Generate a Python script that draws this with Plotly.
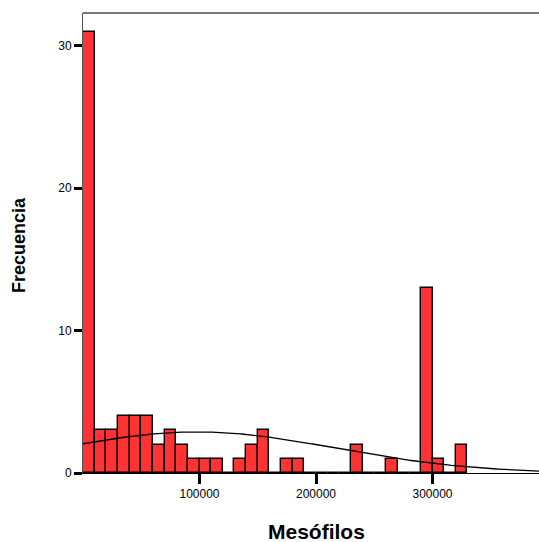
import numpy as np
import plotly.graph_objects as go

# Histogram bins (lower edge of each 10000-wide bin) and frequencies
bin_edges = [0, 10000, 20000, 30000, 40000, 50000, 60000, 70000, 80000, 90000,
             100000, 110000, 120000, 130000, 140000, 150000, 160000, 170000, 180000, 190000,
             200000, 210000, 220000, 230000, 240000, 250000, 260000, 270000, 280000, 290000,
             300000, 310000, 320000]
counts = [31, 3, 3, 4, 4, 4, 2, 3, 2, 1,
          1, 1, 0, 1, 2, 3, 0, 1, 1, 0,
          0, 0, 0, 2, 0, 0, 1, 0, 0, 13,
          1, 0, 2]
bin_width = 10000

# Normal curve parameters (as read from the overlay)
curve_mean = 98000
curve_sd = 119000

x_ticks = [100000, 200000, 300000]
x_tick_labels = ["100000", "200000", "300000"]
y_ticks = [0, 10, 20, 30]
y_tick_labels = ["0", "10", "20", "30"]

x_max = 391400
y_max = 32.3

centers = [e + bin_width / 2 for e in bin_edges]
n_total = sum(counts)
cx = np.linspace(0, x_max, 400)
cy = n_total * bin_width / (curve_sd * np.sqrt(2 * np.pi)) * np.exp(-0.5 * ((cx - curve_mean) / curve_sd) ** 2)

fig = go.Figure()
fig.add_trace(go.Bar(
    x=centers, y=counts, width=[bin_width] * len(counts),
    marker=dict(color="#FF3333", line=dict(color="black", width=1.4)),
    showlegend=False, hoverinfo="skip",
))
fig.add_trace(go.Scatter(
    x=cx, y=cy, mode="lines", line=dict(color="black", width=1.3),
    showlegend=False, hoverinfo="skip",
))

fig.update_layout(
    width=539, height=542,
    margin=dict(l=83, r=0, t=13, b=69),
    paper_bgcolor="white", plot_bgcolor="white",
    bargap=0,
    font=dict(family="Liberation Sans, Arial, sans-serif", color="black"),
    xaxis=dict(
        range=[0, x_max], showgrid=False, zeroline=False,
        showline=True, linecolor="black", linewidth=1,
        tickmode="array", tickvals=x_ticks, ticktext=x_tick_labels,
        ticks="outside", ticklen=10, tickwidth=3, tickcolor="black",
        tickfont=dict(size=12),
    ),
    yaxis=dict(
        range=[0, y_max], showgrid=False, zeroline=False,
        showline=True, linecolor="#555555", linewidth=1,
        tickmode="array", tickvals=y_ticks, ticktext=y_tick_labels,
        ticks="outside", ticklen=8, tickwidth=3, tickcolor="black",
        tickfont=dict(size=12),
    ),
    shapes=[dict(type="line", xref="paper", yref="paper", x0=0, x1=1, y0=1, y1=1,
                 line=dict(color="#777777", width=2))],
    annotations=[
        dict(text="<b>Mesófilos</b>", xref="paper", yref="paper", x=0.5, y=0,
             xshift=5, yshift=-58, xanchor="center", yanchor="middle", showarrow=False,
             font=dict(size=21, family="Liberation Sans, Arial, sans-serif")),
        dict(text="<b>Frecuencia</b>", xref="paper", yref="paper", x=0, y=0.5,
             xshift=-64, yshift=-2, xanchor="center", yanchor="middle", textangle=-90, showarrow=False,
             font=dict(size=18, family="Liberation Sans, Arial, sans-serif")),
    ],
)

fig.write_html("out.html", config={"displayModeBar": False},
               post_script="document.body.style.margin='0px';document.body.style.overflow='hidden';")
